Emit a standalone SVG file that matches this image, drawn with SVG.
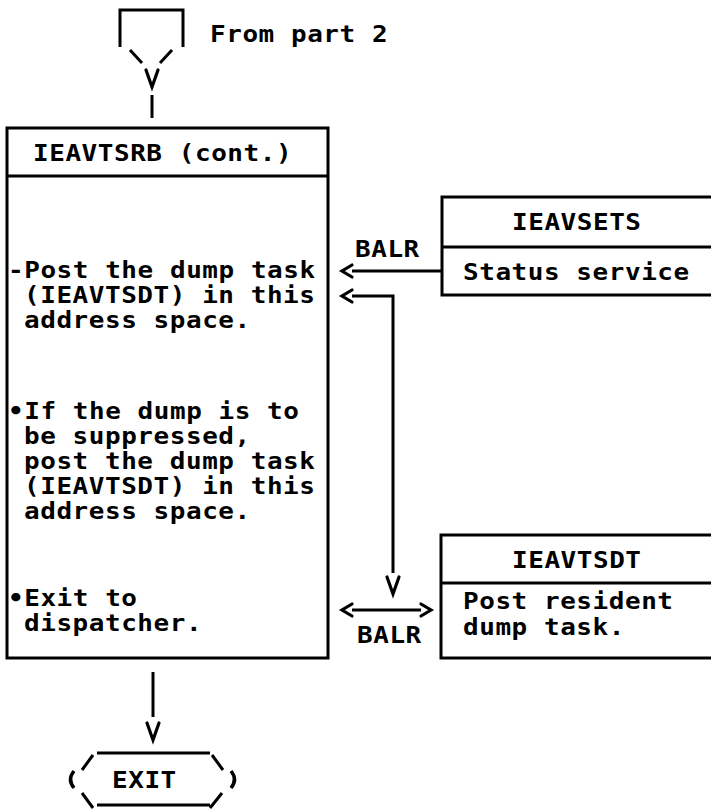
<svg xmlns="http://www.w3.org/2000/svg" width="711" height="812" viewBox="0 0 711 812">
<style>
.ln{fill:none;stroke:#000;stroke-width:3;stroke-linecap:butt;stroke-linejoin:miter}
.ah{fill:none;stroke:#000;stroke-width:3.2;stroke-linecap:round;stroke-linejoin:miter}
.t{font-family:"DejaVu Sans Mono","Liberation Mono",monospace;font-weight:bold;font-size:26px;letter-spacing:0.55px;fill:#000}
</style>
<rect width="711" height="812" fill="#fff"/>
<g id="from-part-2">
<path class="ln" d="M120,47 V10 H183 V47"/>
<path class="ln" d="M130,50 L142,63 M172,50 L160,63"/>
<text class="t" transform="translate(210,42) scale(1,0.9)">From part 2</text>
</g>
<g id="ieavtsrb">
<rect class="ln" x="7" y="128" width="321" height="530"/>
<line class="ln" x1="7" y1="176" x2="328" y2="176"/>
<text class="t" transform="translate(33,161) scale(1,0.9)">IEAVTSRB (cont.)</text>
<text class="t" transform="translate(8,278) scale(1,0.9)">-Post the dump task</text>
<text class="t" transform="translate(24,303) scale(1,0.9)">(IEAVTSDT) in this</text>
<text class="t" transform="translate(24,328) scale(1,0.9)">address space.</text>
<text class="t" transform="translate(8,419) scale(1,0.9)">•If the dump is to</text>
<text class="t" transform="translate(24,444) scale(1,0.9)">be suppressed,</text>
<text class="t" transform="translate(24,469) scale(1,0.9)">post the dump task</text>
<text class="t" transform="translate(24,494) scale(1,0.9)">(IEAVTSDT) in this</text>
<text class="t" transform="translate(24,519) scale(1,0.9)">address space.</text>
<text class="t" transform="translate(8,606) scale(1,0.9)">•Exit to</text>
<text class="t" transform="translate(24,631) scale(1,0.9)">dispatcher.</text>
</g>
<g id="ieavsets">
<rect class="ln" x="442" y="197" width="290" height="98"/>
<line class="ln" x1="442" y1="247" x2="711" y2="247"/>
<text class="t" transform="translate(512,230) scale(1,0.9)">IEAVSETS</text>
<text class="t" transform="translate(463,280) scale(1,0.9)">Status service</text>
</g>
<g id="ieavtsdt">
<rect class="ln" x="441" y="535" width="290" height="123"/>
<line class="ln" x1="441" y1="583" x2="711" y2="583"/>
<text class="t" transform="translate(512,568) scale(1,0.9)">IEAVTSDT</text>
<text class="t" transform="translate(463,609) scale(1,0.9)">Post resident</text>
<text class="t" transform="translate(463,635) scale(1,0.9)">dump task.</text>
</g>
<g id="exit">
<path class="ln" d="M97,753 H210 M97,805 H210"/>
<path class="ln" d="M82,770 L93,755 M212,755 L223,770 M82,793 L93,808 M210,808 L222,793"/>
<path class="ln" style="stroke-width:3.5" d="M74,771 Q67,779.5 74,788 M231,771 Q238,779.5 231,788"/>
<text class="t" transform="translate(112,788) scale(1,0.9)">EXIT</text>
</g>
<g id="connectors">
<line class="ln" x1="152" y1="95" x2="152" y2="118"/>
<polyline class="ah" points="146,70 152,87 158,70"/>
<line class="ln" x1="352" y1="271" x2="442" y2="271"/>
<polyline class="ah" points="352,265 342,271 352,277"/>
<text class="t" transform="translate(355,257) scale(1,0.9)">BALR</text>
<polyline class="ln" points="352,296 393,296 393,573"/>
<polyline class="ah" points="352,290 342,296 352,302"/>
<polyline class="ah" points="387,577 393,594 399,577"/>
<line class="ln" x1="352" y1="610" x2="421" y2="610"/>
<polyline class="ah" points="352,604 342,610 352,616"/>
<polyline class="ah" points="421,604 431,610 421,616"/>
<text class="t" transform="translate(357,643) scale(1,0.9)">BALR</text>
<line class="ln" x1="153" y1="672" x2="153" y2="717"/>
<polyline class="ah" points="147,723 153,740 159,723"/>
</g>
</svg>
